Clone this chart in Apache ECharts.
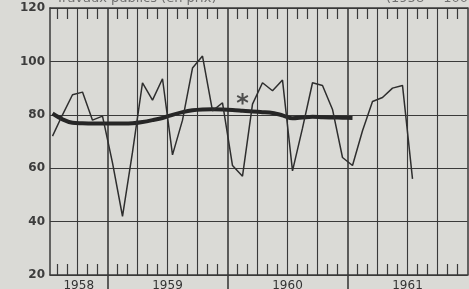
<!DOCTYPE html>
<html>
<head>
<meta charset="utf-8">
<script src="https://cdn.jsdelivr.net/npm/echarts@6/dist/echarts.min.js"></script>
<style>
  html, body { margin: 0; padding: 0; background: #dadad6; }
  #chart { width: 469px; height: 289px; }
</style>
</head>
<body>
<div id="chart"></div>
<script>
// months counted from July 1958 (0), points sit in the middle of each month
const xMin = 0.25;
const xMax = 42;
const yearLabels = ['1958', '1959', '1960', '1961'];
const yearStarts = [-6, 6, 18, 30];

// monthly price index (thin line), Jul 1958 .. Jul 1961
const priceIndex = [72, 80, 87.5, 88.5, 78, 79.5, 62, 42, 66, 92, 85.5, 93.5,
  65, 78, 97.5, 102, 81.5, 84.5, 61, 57, 84, 92, 89, 93,
  59, 75, 92, 91, 82, 64, 61, 74, 85, 86.5, 90, 91, 56];

// smoothed trend (thick line), Jul 1958 .. Jan 1961
const trend = [80.5, 78.3, 77, 76.8, 76.7, 76.7, 76.7, 76.7, 76.8, 77.3, 78, 78.8,
  80, 81, 81.7, 82, 82.1, 82, 81.8, 81.5, 81.2, 81, 80.7, 79.8,
  78.7, 79, 79.3, 79.1, 79, 78.9, 78.8];

// asterisk note
const starMark = [19.4, 85.3];

const yTicks = [20, 40, 60, 80, 100, 120];

const lineCol = '#3a3a3a';

const monthTicks = [];
const quarterLines = [];
const yearLines = [];
for (let m = 1; m < xMax; m++) {
  if (m % 3 !== 0) monthTicks.push(m);
  else if ((m - 6) % 12 === 0) yearLines.push(m);
  else quarterLines.push(m);
}
const yearCenters = yearStarts.map(s => (Math.max(s, xMin) + Math.min(s + 12, xMax)) / 2);

const chart = echarts.init(document.getElementById('chart'));

const baseX = {
  type: 'value', min: xMin, max: xMax, gridIndex: 0,
  axisLine: { show: false },
  axisTick: { show: false },
  axisLabel: { show: false },
  splitLine: { show: false }
};

chart.setOption({
  backgroundColor: '#dadad6',
  animation: false,
  grid: { left: 50, right: 1.5, top: 8, bottom: 14, containLabel: false, outerBoundsMode: 'none' },
  graphic: [
    { type: 'text', left: 56, top: -8,
      style: { text: 'Travaux publics (en prix)', font: '13px "DejaVu Sans"', fill: '#707070' } },
    { type: 'text', left: 386, top: -8,
      style: { text: '(1958 = 100)', font: '13px "DejaVu Sans"', fill: '#707070' } }
  ],
  xAxis: [
    Object.assign({}, baseX, {
      position: 'bottom',
      axisLine: { show: true, lineStyle: { color: lineCol, width: 1.5 } },
      axisTick: { show: true, inside: true, length: 11, customValues: monthTicks,
        lineStyle: { color: lineCol, width: 1.2 } },
      axisLabel: { show: true, customValues: yearCenters, margin: 5,
        color: '#333', fontSize: 12, fontFamily: 'DejaVu Sans',
        formatter: v => yearLabels[yearCenters.indexOf(v)] || '' }
    }),
    Object.assign({}, baseX, {
      position: 'top',
      axisLine: { show: true, lineStyle: { color: lineCol, width: 1.5 } },
      axisTick: { show: true, inside: true, length: 11, customValues: monthTicks,
        lineStyle: { color: lineCol, width: 1.2 } }
    }),
    Object.assign({}, baseX, {
      position: 'bottom',
      axisTick: { show: false, customValues: quarterLines },
      splitLine: { show: true, lineStyle: { color: lineCol, width: 1.1 } }
    }),
    Object.assign({}, baseX, {
      position: 'bottom',
      axisTick: { show: true, inside: false, length: 15, customValues: yearLines,
        lineStyle: { color: lineCol, width: 1.6 } },
      splitLine: { show: true, lineStyle: { color: lineCol, width: 1.6 } }
    })
  ],
  yAxis: [
    {
      type: 'value', min: 20, max: 120, interval: 20,
      axisLine: { show: true, lineStyle: { color: lineCol, width: 1.5 } },
      axisTick: { show: false },
      axisLabel: { color: '#3c3c3c', fontSize: 12, fontWeight: 'bold',
        fontFamily: 'DejaVu Sans', margin: 5,
        formatter: v => (yTicks.indexOf(v) >= 0 ? String(v) : '') },
      splitLine: { show: true, lineStyle: { color: lineCol, width: 1.1 } }
    },
    {
      type: 'value', min: 20, max: 120, position: 'right',
      axisLine: { show: true, lineStyle: { color: lineCol, width: 1.5 } },
      axisTick: { show: false }, axisLabel: { show: false }, splitLine: { show: false }
    }
  ],
  series: [
    {
      type: 'line', xAxisIndex: 0, yAxisIndex: 0,
      data: trend.map((v, i) => [i + 0.5, v]),
      symbol: 'none', smooth: 0.3,
      lineStyle: { color: '#262626', width: 4 },
      z: 3
    },
    {
      type: 'line', xAxisIndex: 0, yAxisIndex: 0,
      data: priceIndex.map((v, i) => [i + 0.5, v]),
      symbol: 'none',
      lineStyle: { color: '#2e2e2e', width: 1.5 },
      z: 4
    },
    {
      type: 'scatter', xAxisIndex: 0, yAxisIndex: 0,
      data: [starMark],
      symbolSize: 1,
      itemStyle: { color: 'rgba(0,0,0,0)' },
      label: { show: true, position: 'inside', formatter: '*', offset: [1, 4],
        fontSize: 24, fontWeight: 'bold', color: '#2a2a2a', fontFamily: 'DejaVu Sans' },
      z: 5
    }
  ]
});
</script>
</body>
</html>
